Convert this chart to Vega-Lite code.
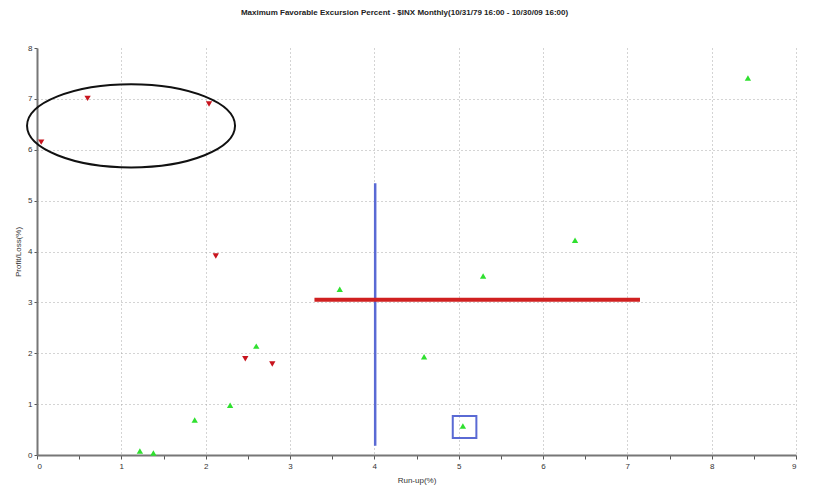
{
  "$schema": "https://vega.github.io/schema/vega-lite/v6.json",
  "width": 759,
  "height": 407,
  "autosize": {"type": "none"},
  "padding": {"left": 37, "top": 48, "right": 24, "bottom": 36},
  "background": "white",
  "config": {
    "view": {"stroke": null},
    "font": "Liberation Sans"
  },
  "title": {
    "text": "Maximum Favorable Excursion Percent - $INX Monthly(10/31/79 16:00 - 10/30/09 16:00)",
    "fontSize": 8,
    "fontWeight": "bold",
    "color": "#222222",
    "offset": 27,
    "dx": -12
  },
  "datasets": {
    "trades": [
      {"runup": 0.05, "pl": 6.15, "type": "loss"},
      {"runup": 0.6, "pl": 7.01, "type": "loss"},
      {"runup": 2.04, "pl": 6.9, "type": "loss"},
      {"runup": 2.12, "pl": 3.91, "type": "loss"},
      {"runup": 2.47, "pl": 1.89, "type": "loss"},
      {"runup": 2.79, "pl": 1.79, "type": "loss"},
      {"runup": 8.43, "pl": 7.41, "type": "win"},
      {"runup": 6.38, "pl": 4.22, "type": "win"},
      {"runup": 5.29, "pl": 3.52, "type": "win"},
      {"runup": 3.59, "pl": 3.26, "type": "win"},
      {"runup": 4.59, "pl": 1.93, "type": "win"},
      {"runup": 2.6, "pl": 2.14, "type": "win"},
      {"runup": 2.29, "pl": 0.98, "type": "win"},
      {"runup": 1.87, "pl": 0.69, "type": "win"},
      {"runup": 1.22, "pl": 0.08, "type": "win"},
      {"runup": 1.38, "pl": 0.04, "type": "win"},
      {"runup": 5.05, "pl": 0.57, "type": "win"}
    ]
  },
  "layer": [
    {
      "data": {"values": [{"x": 4.01, "y": 0.18, "y2": 5.34}]},
      "mark": {"type": "rule", "color": "#5a6ad4", "strokeWidth": 2.5},
      "encoding": {
        "x": {"field": "x", "type": "quantitative"},
        "y": {"field": "y", "type": "quantitative"},
        "y2": {"field": "y2"}
      }
    },
    {
      "data": {"values": [{"x": 3.29, "x2": 7.15, "y": 3.05}]},
      "mark": {"type": "rule", "color": "#d02020", "strokeWidth": 4},
      "encoding": {
        "x": {"field": "x", "type": "quantitative"},
        "x2": {"field": "x2"},
        "y": {"field": "y", "type": "quantitative"}
      }
    },
    {
      "data": {"values": [{"x": 4.93, "x2": 5.21, "y": 0.334, "y2": 0.766}]},
      "mark": {"type": "rect", "fill": null, "fillOpacity": 0, "stroke": "#5a6ad4", "strokeWidth": 2},
      "encoding": {
        "x": {"field": "x", "type": "quantitative"},
        "x2": {"field": "x2"},
        "y": {"field": "y", "type": "quantitative"},
        "y2": {"field": "y2"}
      }
    },
    {
      "data": {"values": [{"x": 1.115, "y": 6.47}]},
      "mark": {
        "type": "point",
        "shape": "M -1 0 A 1 0.4 0 1 0 1 0 A 1 0.4 0 1 0 -1 0 Z",
        "size": 43264,
        "filled": false,
        "stroke": "#111111",
        "strokeWidth": 2,
        "opacity": 1
      },
      "encoding": {
        "x": {"field": "x", "type": "quantitative"},
        "y": {"field": "y", "type": "quantitative"}
      }
    },
    {
      "data": {"name": "trades"},
      "mark": {"type": "point", "filled": true, "size": 40, "opacity": 1},
      "encoding": {
        "x": {
          "field": "runup",
          "type": "quantitative",
          "title": "Run-up(%)",
          "scale": {"domain": [0, 9], "nice": false, "zero": true},
          "axis": {
            "values": [0, 0.5, 1, 1.5, 2, 2.5, 3, 3.5, 4, 4.5, 5, 5.5, 6, 6.5, 7, 7.5, 8, 8.5, 9],
            "labelExpr": "datum.value % 1 === 0 ? format(datum.value, 'd') : ''",
            "grid": true,
            "gridColor": "#a8a8a8",
            "gridDash": [1, 3],
            "gridOpacity": {"condition": {"test": "datum.value % 1 !== 0 || datum.value === 0", "value": 0}, "value": 1},
            "domainColor": "#777777",
            "domainWidth": 2,
            "tickColor": "#555555",
            "tickSize": 4,
            "labelFontSize": 8,
            "labelColor": "#333333",
            "labelPadding": 3,
            "titleFontSize": 8,
            "titleFontWeight": "normal",
            "titleColor": "#333333",
            "titlePadding": 6
          }
        },
        "y": {
          "field": "pl",
          "type": "quantitative",
          "title": "Profit/Loss(%)",
          "scale": {"domain": [0, 8], "nice": false},
          "axis": {
            "values": [0, 0.5, 1, 1.5, 2, 2.5, 3, 3.5, 4, 4.5, 5, 5.5, 6, 6.5, 7, 7.5, 8],
            "labelExpr": "datum.value % 1 === 0 ? format(datum.value, 'd') : ''",
            "grid": true,
            "gridColor": "#a8a8a8",
            "gridDash": [1, 3],
            "gridOpacity": {"condition": {"test": "datum.value % 1 !== 0 || datum.value === 0 || datum.value === 8", "value": 0}, "value": 1},
            "domainColor": "#777777",
            "domainWidth": 2,
            "tickColor": "#555555",
            "tickSize": 3,
            "labelFontSize": 8,
            "labelColor": "#333333",
            "labelPadding": 2,
            "titleFontSize": 8,
            "titleFontWeight": "normal",
            "titleColor": "#333333",
            "titlePadding": 5
          }
        },
        "shape": {
          "field": "type",
          "type": "nominal",
          "scale": {"domain": ["loss", "win"], "range": ["triangle-down", "triangle-up"]},
          "legend": null
        },
        "color": {
          "field": "type",
          "type": "nominal",
          "scale": {"domain": ["loss", "win"], "range": ["#c8141e", "#2fe02f"]},
          "legend": null
        }
      }
    }
  ]
}
